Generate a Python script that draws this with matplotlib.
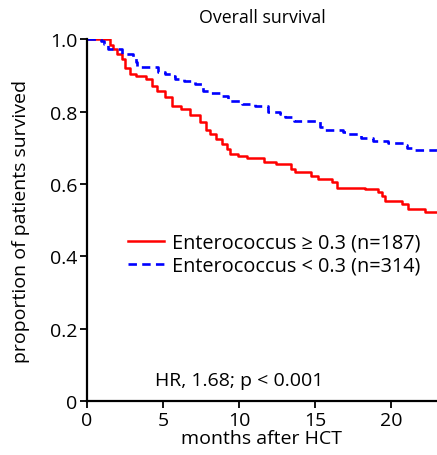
import matplotlib
matplotlib.use('Agg')
import matplotlib.pyplot as plt

plt.rcParams['font.family'] = ['Open Sans', 'DejaVu Sans']

# Kaplan-Meier steps (months, survival)
t_hi = [0, 1.5, 1.7, 2.0, 2.3, 2.5, 2.8, 3.2, 3.9, 4.3, 4.6, 5.1, 5.6, 6.2, 6.8,
        7.4, 7.8, 8.1, 8.5, 8.9, 9.2, 9.4, 9.9, 10.5, 11.6, 12.4, 13.4, 13.7,
        14.7, 15.2, 16.1, 16.4, 18.3, 19.1, 19.4, 19.6, 20.7, 21.1, 22.2, 23]
s_hi = [1.0, 0.985, 0.972, 0.96, 0.945, 0.92, 0.905, 0.898, 0.89, 0.87, 0.856,
        0.84, 0.815, 0.807, 0.79, 0.77, 0.75, 0.737, 0.724, 0.71, 0.696, 0.682,
        0.677, 0.671, 0.66, 0.655, 0.641, 0.633, 0.622, 0.613, 0.605, 0.59,
        0.585, 0.577, 0.567, 0.553, 0.544, 0.53, 0.522, 0.522]

t_lo = [0, 0.9, 1.1, 1.4, 2.3, 3.0, 3.2, 3.3, 4.7, 5.1, 5.5, 5.8, 6.4, 7.1, 7.6,
        8.1, 8.75, 9.3, 10.2, 11.05, 11.9, 12.7, 13.0, 13.6, 15.3, 15.6, 16.8,
        17.1, 18.0, 18.8, 19.8, 20.8, 21.05, 21.4, 23]
s_lo = [1.0, 0.994, 0.986, 0.972, 0.958, 0.95, 0.936, 0.923, 0.91, 0.905, 0.897,
        0.89, 0.884, 0.875, 0.857, 0.85, 0.843, 0.83, 0.82, 0.815, 0.798, 0.793,
        0.785, 0.773, 0.757, 0.749, 0.743, 0.738, 0.727, 0.72, 0.713, 0.707,
        0.70, 0.693, 0.69]

labels = ['Enterococcus \u2265 0.3 (n=187)', 'Enterococcus < 0.3 (n=314)']
xticks = [0, 5, 10, 15, 20]
yticks = [0, 0.2, 0.4, 0.6, 0.8, 1.0]
yticklabels = ['0', '0.2', '0.4', '0.6', '0.8', '1.0']

fig = plt.figure(figsize=(4.37, 4.56), dpi=100)
ax = fig.add_axes([0.199, 0.118, 0.801, 0.794])

ax.step(t_hi, s_hi, where='post', color='#ff0000', lw=1.8, label=labels[0])
ax.step(t_lo, s_lo, where='post', color='#0000ff', lw=1.9, ls=(0, (3.2, 2.0)),
        label=labels[1])

ax.set_xlim(0, 23)
ax.set_ylim(0, 1.0)
ax.set_xticks(xticks)
ax.set_yticks(yticks)
ax.set_yticklabels(yticklabels)
ax.tick_params(labelsize=14, length=5, width=1.3, direction='out', pad=2)
for s in ['top', 'right']:
    ax.spines[s].set_visible(False)
for s in ['left', 'bottom']:
    ax.spines[s].set_linewidth(1.6)

ax.set_xlabel('months after HCT', fontsize=14, labelpad=0)
ax.set_ylabel('proportion of patients survived', fontsize=14, labelpad=14)
ax.set_title('Overall survival', fontsize=12.8, pad=12)

ax.legend(loc='upper left', bbox_to_anchor=(0.117, 0.465), frameon=False,
          fontsize=14.3, handlelength=1.8, handletextpad=0.4, labelspacing=0.15,
          borderpad=0, borderaxespad=0)
ax.text(0.194, 0.058, 'HR, 1.68; p < 0.001', transform=ax.transAxes,
        fontsize=14, ha='left', va='center')

fig.savefig('out.png', dpi=100)
